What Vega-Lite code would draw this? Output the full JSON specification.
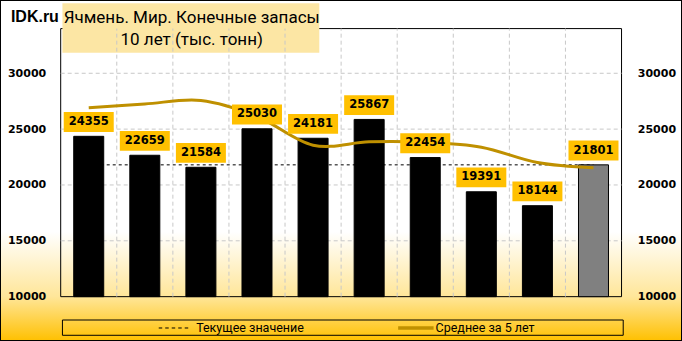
{
  "$schema": "https://vega.github.io/schema/vega-lite/v6.json",
  "width": 682,
  "height": 341,
  "autosize": {"type": "none"},
  "padding": 0,
  "background": "white",
  "config": {
    "view": {
      "fill": {"gradient": "linear", "x1": 0, "y1": 0, "x2": 0, "y2": 1,
        "stops": [{"offset": 0, "color": "#ffffff"}, {"offset": 0.68, "color": "#ffffff"}, {"offset": 0.87, "color": "#FFE699"}, {"offset": 1, "color": "#FFC000"}]},
      "stroke": "#000000",
      "strokeWidth": 2
    },
    "axis": {"labelFont": "DejaVu Sans", "labelFontWeight": "bold", "labelColor": "#000000", "domain": false, "ticks": false, "tickSize": 0, "grid": false, "title": null, "labelOverlap": false, "labelFlush": false}
  },
  "datasets": {
    "main": [
      {"year": 2010, "value": 24355, "avg5": 26920, "current": 21801},
      {"year": 2011, "value": 22659, "avg5": 27250, "current": 21801},
      {"year": 2012, "value": 21584, "avg5": 27560, "current": 21801},
      {"year": 2013, "value": 25030, "avg5": 26130, "current": 21801},
      {"year": 2014, "value": 24181, "avg5": 23562, "current": 21801},
      {"year": 2015, "value": 25867, "avg5": 23864, "current": 21801},
      {"year": 2016, "value": 22454, "avg5": 23823, "current": 21801},
      {"year": 2017, "value": 19391, "avg5": 23385, "current": 21801},
      {"year": 2018, "value": 18144, "avg5": 22007, "current": 21801},
      {"year": 2019, "value": 21801, "avg5": 21531, "current": 21801}
    ],
    "hgrid": [{"v": 15000}, {"v": 20000}, {"v": 25000}, {"v": 30000}],
    "vgrid": [{"b": 2010.5}, {"b": 2011.5}, {"b": 2012.5}, {"b": 2013.5}, {"b": 2014.5}, {"b": 2015.5}, {"b": 2016.5}, {"b": 2017.5}, {"b": 2018.5}],
    "one": [{}]
  },
  "layer": [
    {
      "data": {"name": "one"},
      "mark": {"type": "rect", "filled": false, "stroke": "#000000", "strokeWidth": 1},
      "encoding": {
        "x": {"datum": 2009.5, "type": "quantitative", "scale": {"domain": [2008.507, 2020.489], "nice": false, "zero": false}, "axis": null},
        "x2": {"datum": 2019.5},
        "y": {"datum": 10000, "type": "quantitative", "scale": {"domain": [6030, 36560], "nice": false, "zero": false}, "axis": null},
        "y2": {"datum": 34000}
      }
    },
    {
      "data": {"name": "one"},
      "mark": {"type": "rect", "fill": "#FCE6A4"},
      "encoding": {
        "x": {"datum": 2009.531, "type": "quantitative", "scale": {"domain": [2008.507, 2020.489], "nice": false, "zero": false}, "axis": null},
        "x2": {"datum": 2014.111},
        "y": {"datum": 36264, "type": "quantitative", "scale": {"domain": [6030, 36560], "nice": false, "zero": false}, "axis": null},
        "y2": {"datum": 31842}
      }
    },
    {
      "data": {"name": "vgrid"},
      "mark": {"type": "rule", "stroke": "#C8C8C8", "strokeWidth": 1, "strokeDash": [4, 3]},
      "encoding": {
        "x": {"field": "b", "type": "quantitative", "scale": {"domain": [2008.507, 2020.489], "nice": false, "zero": false}, "axis": null},
        "y": {"datum": 10000, "type": "quantitative", "scale": {"domain": [6030, 36560], "nice": false, "zero": false}, "axis": null},
        "y2": {"datum": 34000}
      }
    },
    {
      "data": {"name": "hgrid"},
      "mark": {"type": "rule", "stroke": "#C8C8C8", "strokeWidth": 1, "strokeDash": [4, 3]},
      "encoding": {
        "x": {"datum": 2009.5, "type": "quantitative", "scale": {"domain": [2008.507, 2020.489], "nice": false, "zero": false}, "axis": null},
        "x2": {"datum": 2019.5},
        "y": {"field": "v", "type": "quantitative", "scale": {"domain": [6030, 36560], "nice": false, "zero": false}, "axis": null}
      }
    },
    {
      "data": {"name": "main"},
      "mark": {"type": "line", "stroke": "#000000", "strokeWidth": 1, "strokeDash": [3, 3]},
      "encoding": {
        "x": {"field": "year", "type": "quantitative", "scale": {"domain": [2008.507, 2020.489], "nice": false, "zero": false}, "axis": null},
        "y": {"field": "current", "type": "quantitative", "scale": {"domain": [6030, 36560], "nice": false, "zero": false}, "axis": null}
      }
    },
    {
      "data": {"name": "main"},
      "mark": {"type": "bar", "size": 30, "stroke": "#000000", "strokeWidth": 1},
      "encoding": {
        "x": {"field": "year", "type": "quantitative", "scale": {"domain": [2008.507, 2020.489], "nice": false, "zero": false},
          "axis": {"orient": "bottom", "offset": -44.3, "values": [2010, 2011, 2012, 2013, 2014, 2015, 2016, 2017, 2018, 2019], "format": "d", "labelFontSize": 10, "labelPadding": 12.3, "labelBaseline": "middle"}},
        "y": {"field": "value", "type": "quantitative", "scale": {"domain": [6030, 36560], "nice": false, "zero": false},
          "axis": {"orient": "left", "offset": -56.5, "values": [10000, 15000, 20000, 25000, 30000], "format": "d", "labelFontSize": 11, "labelPadding": 10.8}},
        "y2": {"datum": 10000},
        "color": {"condition": {"test": "datum.year == 2019", "value": "#808080"}, "value": "#000000"}
      }
    },
    {
      "data": {"name": "main"},
      "mark": {"type": "line", "stroke": "#BF9000", "strokeWidth": 3, "interpolate": "cardinal"},
      "encoding": {
        "x": {"field": "year", "type": "quantitative", "scale": {"domain": [2008.507, 2020.489], "nice": false, "zero": false}, "axis": null},
        "y": {"field": "avg5", "type": "quantitative", "scale": {"domain": [6030, 36560], "nice": false, "zero": false}, "axis": null}
      }
    },
    {
      "data": {"name": "main"},
      "mark": {"type": "bar", "size": 50, "fill": "#FFC000", "yOffset": -24.3, "y2Offset": -4.4},
      "encoding": {
        "x": {"field": "year", "type": "quantitative", "scale": {"domain": [2008.507, 2020.489], "nice": false, "zero": false}, "axis": null},
        "y": {"field": "value", "type": "quantitative", "scale": {"domain": [6030, 36560], "nice": false, "zero": false},
          "axis": {"orient": "right", "offset": -56.3, "values": [10000, 15000, 20000, 25000, 30000], "format": "d", "labelFontSize": 11, "labelPadding": 11.6}},
        "y2": {"field": "value"}
      }
    },
    {
      "data": {"name": "main"},
      "mark": {"type": "text", "font": "DejaVu Sans", "fontWeight": "bold", "fontSize": 11.5, "color": "#000000", "baseline": "middle", "align": "center", "yOffset": -14.3},
      "encoding": {
        "x": {"field": "year", "type": "quantitative", "scale": {"domain": [2008.507, 2020.489], "nice": false, "zero": false}, "axis": null},
        "y": {"field": "value", "type": "quantitative", "scale": {"domain": [6030, 36560], "nice": false, "zero": false}, "axis": null},
        "text": {"field": "value", "type": "quantitative", "format": "d"}
      }
    },
    {
      "data": {"name": "one"},
      "mark": {"type": "text", "text": "IDK.ru", "font": "Liberation Sans", "fontWeight": "bold", "fontSize": 16, "color": "#000000", "align": "left", "baseline": "alphabetic"},
      "encoding": {
        "x": {"datum": 2008.612, "type": "quantitative", "scale": {"domain": [2008.507, 2020.489], "nice": false, "zero": false}, "axis": null},
        "y": {"datum": 34617, "type": "quantitative", "scale": {"domain": [6030, 36560], "nice": false, "zero": false}, "axis": null}
      }
    },
    {
      "data": {"name": "one"},
      "mark": {"type": "text", "text": "Ячмень. Мир. Конечные запасы", "font": "Roboto", "fontSize": 17, "color": "#000000", "align": "center", "baseline": "alphabetic"},
      "encoding": {
        "x": {"datum": 2011.836, "type": "quantitative", "scale": {"domain": [2008.507, 2020.489], "nice": false, "zero": false}, "axis": null},
        "y": {"datum": 34474, "type": "quantitative", "scale": {"domain": [6030, 36560], "nice": false, "zero": false}, "axis": null}
      }
    },
    {
      "data": {"name": "one"},
      "mark": {"type": "text", "text": "10 лет (тыс. тонн)", "font": "Roboto", "fontSize": 17, "color": "#000000", "align": "center", "baseline": "alphabetic"},
      "encoding": {
        "x": {"datum": 2011.836, "type": "quantitative", "scale": {"domain": [2008.507, 2020.489], "nice": false, "zero": false}, "axis": null},
        "y": {"datum": 32531, "type": "quantitative", "scale": {"domain": [6030, 36560], "nice": false, "zero": false}, "axis": null}
      }
    },
    {
      "data": {"name": "one"},
      "mark": {"type": "rect", "filled": false, "stroke": "#000000", "strokeWidth": 1},
      "encoding": {
        "x": {"datum": 2009.531, "type": "quantitative", "scale": {"domain": [2008.507, 2020.489], "nice": false, "zero": false}, "axis": null},
        "x2": {"datum": 2019.53},
        "y": {"datum": 7910, "type": "quantitative", "scale": {"domain": [6030, 36560], "nice": false, "zero": false}, "axis": null},
        "y2": {"datum": 6541}
      }
    },
    {
      "data": {"name": "one"},
      "mark": {"type": "rule", "stroke": "#000000", "strokeWidth": 1, "strokeDash": [3.5, 3]},
      "encoding": {
        "x": {"datum": 2011.248, "type": "quantitative", "scale": {"domain": [2008.507, 2020.489], "nice": false, "zero": false}, "axis": null},
        "x2": {"datum": 2011.792},
        "y": {"datum": 7194, "type": "quantitative", "scale": {"domain": [6030, 36560], "nice": false, "zero": false}, "axis": null}
      }
    },
    {
      "data": {"name": "one"},
      "mark": {"type": "rule", "stroke": "#BF9000", "strokeWidth": 3.5},
      "encoding": {
        "x": {"datum": 2015.517, "type": "quantitative", "scale": {"domain": [2008.507, 2020.489], "nice": false, "zero": false}, "axis": null},
        "x2": {"datum": 2016.149},
        "y": {"datum": 7194, "type": "quantitative", "scale": {"domain": [6030, 36560], "nice": false, "zero": false}, "axis": null}
      }
    },
    {
      "data": {"name": "one"},
      "mark": {"type": "text", "text": "Текущее значение", "font": "Roboto", "fontSize": 12.5, "color": "#000000", "align": "left", "baseline": "middle"},
      "encoding": {
        "x": {"datum": 2011.915, "type": "quantitative", "scale": {"domain": [2008.507, 2020.489], "nice": false, "zero": false}, "axis": null},
        "y": {"datum": 7194, "type": "quantitative", "scale": {"domain": [6030, 36560], "nice": false, "zero": false}, "axis": null}
      }
    },
    {
      "data": {"name": "one"},
      "mark": {"type": "text", "text": "Среднее за 5 лет", "font": "Roboto", "fontSize": 12.5, "color": "#000000", "align": "left", "baseline": "middle"},
      "encoding": {
        "x": {"datum": 2016.184, "type": "quantitative", "scale": {"domain": [2008.507, 2020.489], "nice": false, "zero": false}, "axis": null},
        "y": {"datum": 7194, "type": "quantitative", "scale": {"domain": [6030, 36560], "nice": false, "zero": false}, "axis": null}
      }
    }
  ]
}
